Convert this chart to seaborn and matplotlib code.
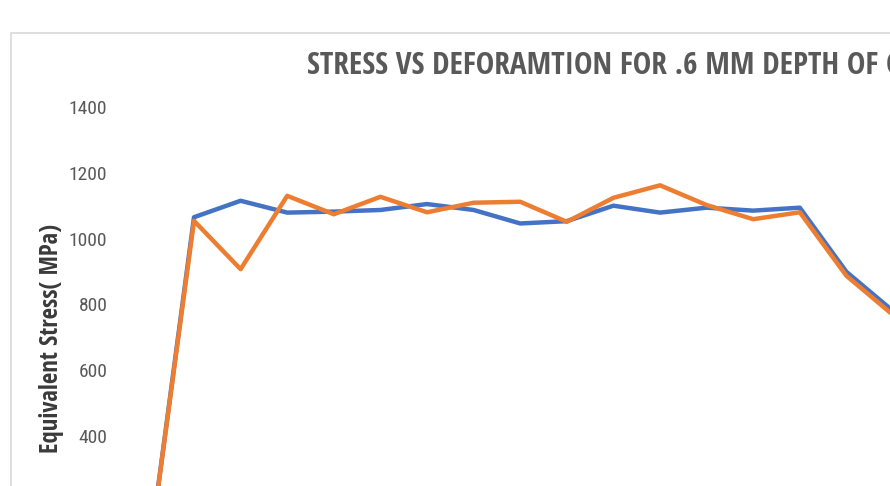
import pandas as pd
import matplotlib.pyplot as plt
import seaborn as sns
from matplotlib.patches import Rectangle

# values (x axis labels are cut off in the picture)
deformation_step = list(range(17))
stress_series1 = [0, 1065, 1115, 1079, 1082, 1087, 1105, 1087, 1046, 1053,
                  1100, 1079, 1094, 1085, 1094, 899, 780]
stress_series2 = [0, 1054, 907, 1130, 1074, 1127, 1080, 1109, 1112, 1051,
                  1124, 1162, 1102, 1059, 1080, 887, 768]
series_names = ['Series1', 'Series2']
# only the tick labels that fall inside the cropped picture
y_ticks = [400, 600, 800, 1000, 1200, 1400]

df = pd.DataFrame({
    'step': deformation_step * 2,
    'stress': stress_series1 + stress_series2,
    'series': [series_names[0]] * len(deformation_step) + [series_names[1]] * len(deformation_step),
})

sns.set_style('white')
plt.rcParams['font.family'] = ['Open Sans Condensed', 'DejaVu Sans']

W, H = 890, 486
fig = plt.figure(figsize=(W / 100, H / 100), dpi=100)

# the reference is a crop of a bigger chart: the plot area runs past the right and bottom edges
x0, step_px = 147.4, 46.6
left = x0 - 0.5 * step_px
right = x0 + 16.5 * step_px
top, zero_y = 107, 567.6
ax = fig.add_axes([left / W, (H - zero_y) / H, (right - left) / W, (zero_y - top) / H])

sns.lineplot(data=df, x='step', y='stress', hue='series', ax=ax,
             palette=['#4472C4', '#ED7D31'], linewidth=3.2, legend=False)

ax.set_xlim(-0.5, 16.5)
ax.set_ylim(0, 1400)
ax.set_yticks(y_ticks)
ax.set_yticklabels([str(v) for v in y_ticks], family=['Roboto Condensed', 'DejaVu Sans'])
ax.set_xticks([])
ax.set_xlabel('')
ax.set_ylabel('')
ax.tick_params(axis='y', length=0, pad=12, labelsize=14, labelcolor='#595959')
for s in ax.spines.values():
    s.set_visible(False)

# chart border
fig.patches.append(Rectangle((10.5 / W, -0.2), 2, (H - 33) / H + 0.2, transform=fig.transFigure,
                             fill=False, edgecolor='#d9d9d9', linewidth=1.2))

fig.text(307 / W, 1 - 66 / H, 'STRESS VS DEFORAMTION FOR .6 MM DEPTH OF CUT',
         ha='left', va='center', fontsize=22.5, fontweight='bold', color='#595959')
fig.text(52 / W, 1 - 338 / H, 'Equivalent Stress( MPa)', rotation=90,
         ha='center', va='center', fontsize=17.8, fontweight='bold', color='#3a3a3a')

fig.savefig('out.png', dpi=100)
